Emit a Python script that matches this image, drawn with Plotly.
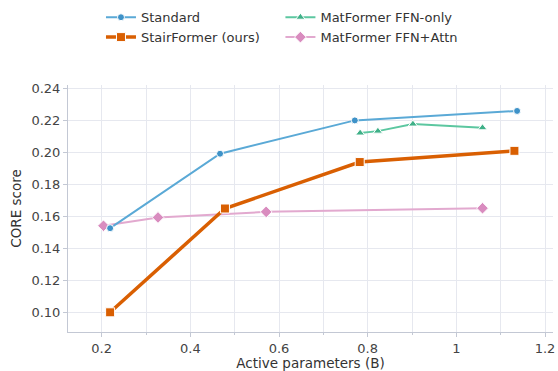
import plotly.graph_objects as go

# Data
std_x = [0.219, 0.467, 0.771, 1.137]
std_y = [0.1526, 0.1991, 0.2199, 0.2258]
stair_x = [0.219, 0.478, 0.782, 1.131]
stair_y = [0.1001, 0.1649, 0.1939, 0.2009]
ffn_x = [0.783, 0.823, 0.902, 1.059]
ffn_y = [0.2120, 0.2132, 0.2176, 0.2153]
attn_x = [0.204, 0.327, 0.571, 1.059]
attn_y = [0.1541, 0.1593, 0.1628, 0.1651]

FONT = "DejaVu Sans"

fig = go.Figure()

fig.add_trace(go.Scatter(
    x=attn_x, y=attn_y, name="MatFormer FFN+Attn", mode="lines+markers",
    line=dict(color="#e2a9cf", width=2),
    marker=dict(symbol="diamond", size=9, color="#d98cbf", line=dict(color="white", width=1)),
    legend="legend2", legendrank=2))
fig.add_trace(go.Scatter(
    x=ffn_x, y=ffn_y, name="MatFormer FFN-only", mode="lines+markers",
    line=dict(color="#5cc7a0", width=2),
    marker=dict(symbol="triangle-up", size=8, color="#3fb088", line=dict(color="white", width=1)),
    legend="legend2", legendrank=1))
fig.add_trace(go.Scatter(
    x=std_x, y=std_y, name="Standard", mode="lines+markers",
    line=dict(color="#5aa9d6", width=2),
    marker=dict(symbol="circle", size=7, color="#3e92c8", line=dict(color="white", width=1)),
    legend="legend", legendrank=1))
fig.add_trace(go.Scatter(
    x=stair_x, y=stair_y, name="StairFormer (ours)", mode="lines+markers",
    line=dict(color="#d95f02", width=3.5),
    marker=dict(symbol="square", size=9, color="#d95f02", line=dict(color="white", width=1)),
    legend="legend", legendrank=2))

axis_common = dict(
    showgrid=True, gridcolor="#e6e8ef", gridwidth=1,
    showline=True, linecolor="#c3c8d4", linewidth=1,
    ticks="outside", tickcolor="#c3c8d4", ticklen=4,
    tickfont=dict(family=FONT, size=13, color="#444444"),
    zeroline=False, mirror=False, ticklabeloverflow="allow",
)

fig.update_xaxes(
    **axis_common,
    range=[0.124, 1.218], dtick=0.2, tick0=0.2,
    minor=dict(dtick=0.1, tick0=0.1, showgrid=True, gridcolor="#e6e8ef",
               ticks="outside", ticklen=2, tickcolor="#c3c8d4"),
    title=dict(text="Active parameters (B)", font=dict(family=FONT, size=13.5, color="#333333"), standoff=2),
)
fig.update_yaxes(
    **axis_common,
    range=[0.0878, 0.242], dtick=0.02, tick0=0.10, tickformat=".2f",
    title=dict(text="CORE score", font=dict(family=FONT, size=13.5, color="#333333"), standoff=6),
)

legend_common = dict(
    orientation="v", xanchor="left", yanchor="top",
    font=dict(family=FONT, size=13, color="#333333"),
    bgcolor="rgba(0,0,0,0)", itemwidth=30, tracegroupgap=0,
)

fig.update_layout(
    width=558, height=371,
    margin=dict(l=68, r=5, t=85, b=39, autoexpand=False),
    paper_bgcolor="white", plot_bgcolor="white",
    font=dict(family=FONT),
    legend=dict(**legend_common, x=0.068, y=1.335),
    legend2=dict(**legend_common, x=0.438, y=1.335),
)

# remove the default page margin so the figure fills the window exactly
fig.write_html("out.html", config={"displayModeBar": False},
               post_script="document.body.style.margin='0';")
